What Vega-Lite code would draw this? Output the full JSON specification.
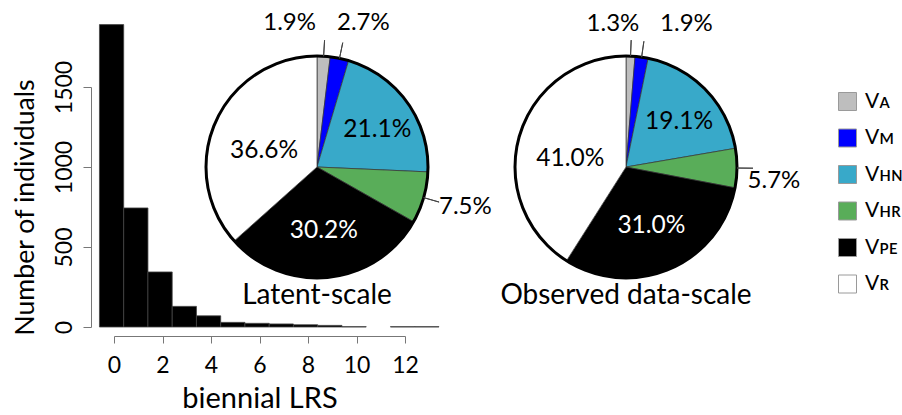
{
  "$schema": "https://vega.github.io/schema/vega-lite/v6.json",
  "background": "white",
  "padding": {"left": 11, "top": 8, "right": 5, "bottom": 3},
  "config": {
    "font": "Lato",
    "view": {"stroke": null},
    "axis": {"grid": false}
  },
  "bounds": "flush",
  "spacing": 0,
  "hconcat": [
    {
      "width": 92,
      "height": 240,
      "data": {
        "values": [
          {"start": -0.6, "end": 0.4, "n": 1890},
          {"start": 0.4, "end": 1.4, "n": 744},
          {"start": 1.4, "end": 2.4, "n": 344},
          {"start": 2.4, "end": 3.4, "n": 129},
          {"start": 3.4, "end": 4.4, "n": 70},
          {"start": 4.4, "end": 5.4, "n": 29},
          {"start": 5.4, "end": 6.4, "n": 23},
          {"start": 6.4, "end": 7.4, "n": 19},
          {"start": 7.4, "end": 8.4, "n": 14},
          {"start": 8.4, "end": 9.4, "n": 10},
          {"start": 9.4, "end": 10.4, "n": 2},
          {"start": 11.4, "end": 12.4, "n": 2},
          {"start": 12.4, "end": 13.4, "n": 2}
        ]
      },
      "mark": {"type": "rect", "fill": "black", "stroke": "#444", "strokeWidth": 0.8, "clip": false},
      "encoding": {
        "x": {
          "field": "start", "type": "quantitative",
          "scale": {"domain": [0, 12], "range": [0, 291], "nice": false, "zero": false},
          "title": "biennial LRS",
          "axis": {
            "values": [0, 2, 4, 6, 8, 10, 12],
            "offset": 9, "tickSize": 7,
            "domainColor": "#777", "tickColor": "#777",
            "labelFontSize": 23, "labelPadding": 11, "labelColor": "black",
            "labelFlush": false, "labelOverlap": false,
            "titleFontSize": 29, "titleFontWeight": "normal", "titleColor": "black", "titlePadding": 7
          }
        },
        "x2": {"field": "end"},
        "y": {
          "field": "n", "type": "quantitative",
          "scale": {"domain": [0, 1500], "nice": false},
          "title": "Number of individuals",
          "axis": {
            "values": [0, 500, 1000, 1500], "format": "d",
            "offset": 23, "tickSize": 8,
            "domainColor": "#777", "tickColor": "#777",
            "labelAngle": -90, "labelAlign": "center", "labelBaseline": "bottom",
            "labelFontSize": 23, "labelPadding": 7, "labelColor": "black", "labelFlush": false,
            "titleFontSize": 26.7, "titleFontWeight": "normal", "titleColor": "black", "titlePadding": 14
          }
        },
        "y2": {"datum": 0}
      }
    },
    {
      "data": {
        "values": [
          {"scale": "Latent-scale", "k": 1, "comp": "Vᴀ", "share": 0.019},
          {"scale": "Latent-scale", "k": 2, "comp": "Vᴍ", "share": 0.027},
          {"scale": "Latent-scale", "k": 3, "comp": "Vʜɴ", "share": 0.211},
          {"scale": "Latent-scale", "k": 4, "comp": "Vʜʀ", "share": 0.075},
          {"scale": "Latent-scale", "k": 5, "comp": "Vᴘᴇ", "share": 0.302},
          {"scale": "Latent-scale", "k": 6, "comp": "Vʀ", "share": 0.366},
          {"scale": "Observed data-scale", "k": 1, "comp": "Vᴀ", "share": 0.013},
          {"scale": "Observed data-scale", "k": 2, "comp": "Vᴍ", "share": 0.019},
          {"scale": "Observed data-scale", "k": 3, "comp": "Vʜɴ", "share": 0.191},
          {"scale": "Observed data-scale", "k": 4, "comp": "Vʜʀ", "share": 0.057},
          {"scale": "Observed data-scale", "k": 5, "comp": "Vᴘᴇ", "share": 0.310},
          {"scale": "Observed data-scale", "k": 6, "comp": "Vʀ", "share": 0.410}
        ]
      },
      "facet": {
        "column": {
          "field": "scale", "type": "nominal",
          "sort": ["Latent-scale", "Observed data-scale"],
          "title": null,
          "header": {"labelOrient": "bottom", "labelFontSize": 28, "labelPadding": 35, "labelColor": "black", "labelFont": "Lato"}
        }
      },
      "spacing": {"column": 87},
      "bounds": "flush",
      "spec": {
        "width": 222,
        "height": 160,
        "layer": [
          {
            "mark": {"type": "arc", "radius": 111, "stroke": "#333", "strokeWidth": 0.7},
            "encoding": {
              "theta": {"field": "share", "type": "quantitative", "stack": true},
              "order": {"field": "k", "type": "quantitative"},
              "color": {
                "field": "comp", "type": "nominal",
                "scale": {
                  "domain": ["Vᴀ", "Vᴍ", "Vʜɴ", "Vʜʀ", "Vᴘᴇ", "Vʀ"],
                  "range": ["#BEBEBE", "#0000FF", "#38A9C9", "#59AD59", "#000000", "#FFFFFF"]
                },
                "legend": {
                  "title": null, "orient": "right", "offset": 22, "padding": 4,
                  "symbolType": "square", "symbolSize": 324,
                  "symbolStrokeColor": "#9a9a9a", "symbolStrokeWidth": 1,
                  "labelFontSize": 21, "labelOffset": 7, "rowPadding": 13.5,
                  "labelFont": "Lato", "labelColor": "black"
                }
              }
            }
          },
          {
            "transform": [{"filter": "datum.k === 1"}],
            "mark": {"type": "arc", "radius": 111, "theta": 0, "theta2": 6.2832, "fill": "white", "fillOpacity": 0, "stroke": "black", "strokeWidth": 3},
            "encoding": {}
          },
          {
            "mark": {"type": "arc", "radius": 127, "radius2": 111, "padAngle": 1.5, "fill": "white", "fillOpacity": 0, "stroke": "#444", "strokeWidth": 1},
            "encoding": {
              "theta": {"field": "share", "type": "quantitative", "stack": true},
              "order": {"field": "k", "type": "quantitative"},
              "strokeOpacity": {"condition": {"test": "datum.share < 0.08", "value": 1}, "value": 0}
            }
          },
          {
            "mark": {"type": "text", "radius": 74, "fontSize": 24.5, "font": "Lato", "color": "black", "dy": 6},
            "encoding": {
              "theta": {"field": "share", "type": "quantitative", "stack": true},
              "order": {"field": "k", "type": "quantitative"},
              "text": {"condition": {"test": "datum.k === 3", "field": "share", "type": "quantitative", "format": ".1%"}, "value": ""}
            }
          },
          {
            "mark": {"type": "text", "radius": 64, "fontSize": 24.5, "font": "Lato", "color": "white"},
            "encoding": {
              "theta": {"field": "share", "type": "quantitative", "stack": true},
              "order": {"field": "k", "type": "quantitative"},
              "text": {"condition": {"test": "datum.k === 5", "field": "share", "type": "quantitative", "format": ".1%"}, "value": ""}
            }
          },
          {
            "mark": {"type": "text", "radius": 58, "fontSize": 24.5, "font": "Lato", "color": "black", "dy": 8},
            "encoding": {
              "theta": {"field": "share", "type": "quantitative", "stack": true},
              "order": {"field": "k", "type": "quantitative"},
              "text": {"condition": {"test": "datum.k === 6", "field": "share", "type": "quantitative", "format": ".1%"}, "value": ""}
            }
          },
          {
            "mark": {"type": "text", "radius": 145, "fontSize": 24, "font": "Lato", "color": "black", "dx": -36, "dy": 1},
            "encoding": {
              "theta": {"field": "share", "type": "quantitative", "stack": true},
              "order": {"field": "k", "type": "quantitative"},
              "text": {"condition": {"test": "datum.scale === 'Latent-scale' && datum.k === 1", "field": "share", "type": "quantitative", "format": ".1%"}, "value": ""}
            }
          },
          {
            "mark": {"type": "text", "radius": 145, "fontSize": 24, "font": "Lato", "color": "black", "dx": 17, "dy": -2},
            "encoding": {
              "theta": {"field": "share", "type": "quantitative", "stack": true},
              "order": {"field": "k", "type": "quantitative"},
              "text": {"condition": {"test": "datum.scale === 'Latent-scale' && datum.k === 2", "field": "share", "type": "quantitative", "format": ".1%"}, "value": ""}
            }
          },
          {
            "mark": {"type": "text", "radius": 145, "fontSize": 24, "font": "Lato", "color": "black", "dx": 9, "dy": 0},
            "encoding": {
              "theta": {"field": "share", "type": "quantitative", "stack": true},
              "order": {"field": "k", "type": "quantitative"},
              "text": {"condition": {"test": "datum.scale === 'Latent-scale' && datum.k === 4", "field": "share", "type": "quantitative", "format": ".1%"}, "value": ""}
            }
          },
          {
            "mark": {"type": "text", "radius": 145, "fontSize": 24, "font": "Lato", "color": "black", "dx": -19, "dy": 2},
            "encoding": {
              "theta": {"field": "share", "type": "quantitative", "stack": true},
              "order": {"field": "k", "type": "quantitative"},
              "text": {"condition": {"test": "datum.scale === 'Observed data-scale' && datum.k === 1", "field": "share", "type": "quantitative", "format": ".1%"}, "value": ""}
            }
          },
          {
            "mark": {"type": "text", "radius": 145, "fontSize": 24, "font": "Lato", "color": "black", "dx": 40, "dy": 1},
            "encoding": {
              "theta": {"field": "share", "type": "quantitative", "stack": true},
              "order": {"field": "k", "type": "quantitative"},
              "text": {"condition": {"test": "datum.scale === 'Observed data-scale' && datum.k === 2", "field": "share", "type": "quantitative", "format": ".1%"}, "value": ""}
            }
          },
          {
            "mark": {"type": "text", "radius": 145, "fontSize": 24, "font": "Lato", "color": "black", "dx": 3, "dy": 13},
            "encoding": {
              "theta": {"field": "share", "type": "quantitative", "stack": true},
              "order": {"field": "k", "type": "quantitative"},
              "text": {"condition": {"test": "datum.scale === 'Observed data-scale' && datum.k === 4", "field": "share", "type": "quantitative", "format": ".1%"}, "value": ""}
            }
          }
        ]
      }
    }
  ]
}
